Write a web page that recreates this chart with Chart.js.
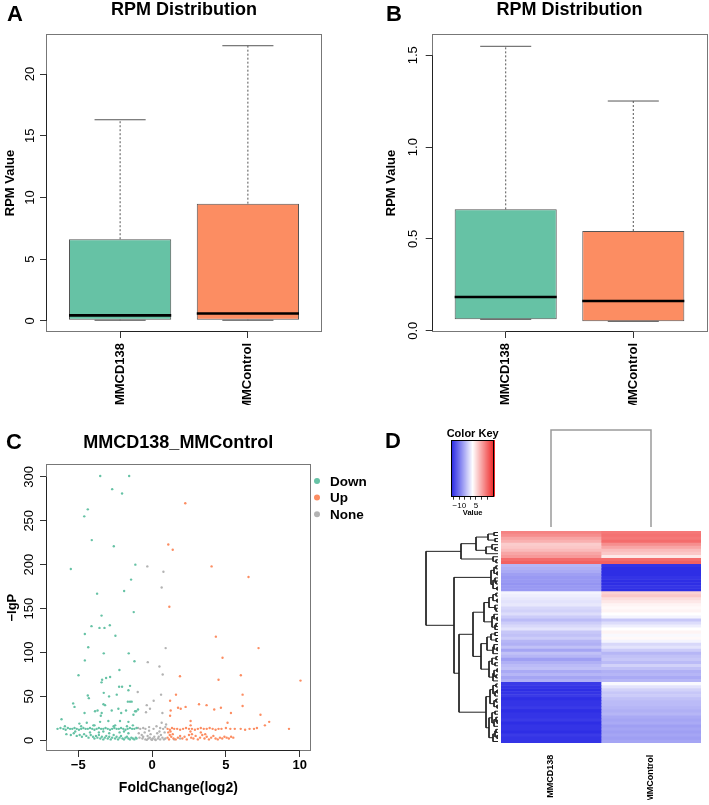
<!DOCTYPE html>
<html>
<head>
<meta charset="utf-8">
<script src="https://cdn.jsdelivr.net/npm/chart.js@4.4.0/dist/chart.umd.min.js"></script>
<style>
  body { margin: 0; background: #fff; }
  #fig { position: relative; width: 709px; height: 805px; overflow: hidden; background: #fff; }
  #fig canvas { position: absolute; }
  .tag { position: absolute; font: bold 22px 'Liberation Sans', Arial, sans-serif; line-height: 22px; color: #000; }
</style>
</head>
<body>
<div id="fig">
  <canvas id="boxA" width="350" height="405" style="left:0;top:0"></canvas>
  <canvas id="boxB" width="359" height="405" style="left:350px;top:0"></canvas>
  <canvas id="volcano" width="380" height="400" style="left:0;top:405px"></canvas>
  <canvas id="colorKey" width="62" height="100" style="left:440px;top:420px"></canvas>
  <canvas id="colTree" width="200" height="100" style="left:501px;top:428px"></canvas>
  <canvas id="rowTree" width="76" height="212" style="left:424px;top:531px"></canvas>
  <canvas id="heatmap" width="200" height="269" style="left:501px;top:531px"></canvas>
  <div class="tag" style="left:7px;top:3px">A</div>
  <div class="tag" style="left:386px;top:3px">B</div>
  <div class="tag" style="left:6px;top:431px">C</div>
  <div class="tag" style="left:385px;top:430px">D</div>
</div>
<script>
// --- dati boxplot (pannelli A e B)
const groups = ['MMCD138', 'MMControl'];
const boxColors = ['#66C2A5', '#FC8D62'];

const aWhiskLow = [0.05, 0.05];
const aQ1 = [0.1, 0.1];
const aMedian = [0.45, 0.6];
const aQ3 = [6.62, 9.5];
const aWhiskHigh = [16.3, 22.3];
const aYTicks = [0, 5, 10, 15, 20];

const bWhiskLow = [0.062, 0.051];
const bQ1 = [0.062, 0.051];
const bMedian = [0.184, 0.162];
const bQ3 = [0.661, 0.543];
const bWhiskHigh = [1.549, 1.251];
const bYTicks = [0, 0.5, 1, 1.5];

// --- dati volcano (pannello C): [log2 fold change, -lgP]
const volcanoDown = [
  [-3.51,301],[-1.55,301],[-2.70,286],[-2.03,281],[-4.35,263],[-4.59,255],[-4.08,228],[-2.59,221],
  [-5.50,195],[-1.13,200],[-1.42,183],[-1.89,170],[-3.72,167],[-1.24,146],[-3.42,142],[-4.10,130],
  [-3.56,128],[-3.22,128],[-2.86,131],[-4.55,121],[-2.48,119],[-4.32,106],[-3.27,99],[-1.58,99],
  [-4.55,91],[-1.19,90],[-2.21,80],[-4.98,74],[-2.84,72],[-3.11,71],[-3.38,69],[-3.42,66],
  [-2.23,61],[-2.03,61],[-1.49,62],[-1.60,57],[-4.35,51],[-4.28,48],[-3.27,54],[-2.91,50],
  [-2.39,52],[-1.64,44],[-1.49,44],[-5.34,42],[-5.25,38],[-3.29,41],[-3.69,34],[-2.73,34],
  [-4.57,31],[-1.15,33],[-0.95,35],[-6.13,24],[-3.47,28],[-1.26,29],[-2.09,31],
  [-3.86,33],[-3.41,31],[-3.18,40],[-2.28,36],[-1.76,34],[-1.38,44],[-1.08,33],[-4.42,20],
  [-3.52,21],[-2.96,22],[-2.17,22],[-1.60,21],[-4.92,19],[-2.50,17],[-3.97,17],
  [-6.40,13],[-6.20,14],[-6.00,13],[-5.85,12],[-5.70,14],[-5.55,13],[-5.40,13],[-5.25,14],
  [-5.10,13],[-4.95,12],[-4.80,13],[-4.65,14],[-4.50,13],[-4.35,13],[-4.20,14],[-4.05,13],
  [-3.90,12],[-3.75,13],[-3.60,14],[-3.45,13],[-3.30,13],[-3.15,14],[-3.00,13],[-2.85,12],
  [-2.70,13],[-2.55,14],[-2.40,13],[-2.25,13],[-2.10,14],[-1.95,13],[-1.80,12],[-1.65,13],
  [-1.50,14],[-1.35,13],[-1.20,13],[-1.05,14],[-5.90,16],[-4.80,16],[-3.90,17],[-2.60,16],
  [-1.70,16],[-1.30,17],
  [-5.80,7],[-5.50,6],[-5.30,8],[-5.10,5],[-4.90,6],[-4.75,4],[-4.60,7],[-4.45,5],[-4.30,3],
  [-4.15,6],[-4.00,4],[-3.90,2],[-3.80,5],[-3.70,3],[-3.60,6],[-3.50,2],[-3.40,4],[-3.30,1],
  [-3.20,3],[-3.10,5],[-3.00,2],[-2.90,4],[-2.80,1],[-2.70,3],[-2.60,6],[-2.50,2],[-2.40,4],
  [-2.30,1],[-2.20,3],[-2.10,5],[-2.00,2],[-1.90,1],[-1.80,3],[-1.70,4],[-1.60,2],[-1.50,1],
  [-1.40,3],[-1.30,2],[-1.20,1],[-1.10,3],[-1.05,2],[-4.20,9],[-3.60,9],[-2.90,8],[-2.20,9],
  [-1.60,8],[-5.20,10],[-3.30,10],[-1.90,10]
];
const volcanoUp = [
  [2.25,270],[1.10,223],[1.40,217],[4.03,198],[6.53,186],[1.17,152],[4.32,118],[7.21,105],
  [4.77,94],[1.89,73],[6.01,74],[4.50,69],[10.05,68],[6.13,52],[1.62,52],[1.22,45],[3.18,41],
  [3.69,40],[6.13,39],[1.76,37],[2.27,38],[1.94,36],[4.21,35],[4.66,37],[1.26,34],[5.34,31],
  [1.22,28],[7.34,29],[2.61,22],[7.93,21],[7.64,17],[5.11,20],[2.61,17],[9.27,13],
  [1.05,13],[1.20,12],[1.35,14],[1.50,13],[1.70,13],[1.90,12],[2.10,13],[2.30,14],[2.50,13],
  [2.70,13],[2.90,12],[3.10,13],[3.30,14],[3.50,13],[3.70,13],[3.90,14],[4.10,13],[4.30,12],
  [4.50,13],[4.70,13],[5.00,14],[5.30,13],[5.60,13],[6.00,13],[6.30,12],[6.60,13],[6.90,13],
  [7.10,14],[1.10,9],[1.25,10],[2.60,10],[3.30,9],
  [1.05,3],[1.15,1],[1.30,4],[1.45,2],[1.60,1],[1.75,3],[1.90,5],[2.05,2],[2.20,4],[2.35,1],
  [2.50,6],[2.65,3],[2.80,2],[2.95,5],[3.10,1],[3.25,3],[3.40,6],[3.55,2],[3.70,4],[3.85,1],
  [4.00,3],[4.15,5],[4.30,2],[4.45,1],[4.60,3],[4.75,2],[4.90,4],[5.05,3],[5.20,2],[5.35,4],
  [5.50,3],[1.20,6],[1.40,7],[2.70,7],[3.60,7]
];
const volcanoNone = [
  [-0.32,198],[0.77,192],[0.65,174],[0.92,105],[-0.29,89],[0.50,84],[0.72,75],[-0.97,55],
  [0.61,52],[0.11,45],[-0.36,40],[-0.14,36],[0.70,31],[-0.41,32],
  [-0.95,14],[-0.80,13],[-0.60,14],[-0.45,13],[-0.20,15],[0.10,13],[0.30,16],[0.55,14],
  [0.75,13],[0.90,15],[-0.90,8],[-0.70,6],[-0.50,9],[-0.30,5],[-0.10,7],[0.15,4],[0.35,8],
  [0.60,6],[0.85,9],[-0.85,3],[-0.65,2],[-0.45,1],[-0.25,2],[-0.05,1],[0.00,0.5],[0.20,1],
  [0.40,2],[0.55,1],[0.70,3],[0.90,2],[-0.35,0.5],[0.25,0.3],[-0.15,3],[0.45,4],[0.80,1],
  [-0.60,4],[0.05,2],[0.65,20],[0.95,18],[0.50,10],[-0.20,11],[1.50,1],[1.90,2]
];
const volcanoXTicks = [-5, 0, 5, 10];
const volcanoYTicks = [0, 50, 100, 150, 200, 250, 300];

// --- dati heatmap (pannello D), righe dall'alto verso il basso
const heatMMCD138 = [
  13, 12, 10, 9, 6.5, 7, 8, 10, 11, 15, 16,
  -4.5, -5, -5.5, -6.5, -7, -7, -7.5, -7, -7,
  1, 0.5, 0, -0.5, 0, -1.5, -2, -1, -2.5, -4, -2.5, -1.5, -0.5, -3, -3.5,
  -2.5, -4.5, -5, -3.5, -6, -3.5, -4.5, -6.5, -5, -4, -3.5, -5.5, -4.5, -6, -5,
  -15.5, -16, -16.5, -16, -15.5, -16.5, -16, -16, -15.5, -16.5,
  -16, -16, -15.5, -16.5, -16, -16, -16.5, -15.5, -16, -16
];
const heatMMControl = [
  14, 14.5, 14, 15, 12, 10, 8, 7, 4, 15, 16,
  -16, -16.5, -16.5, -16.5, -16, -16.5, -16.5, -16, -16.5,
  6, 7, 5, 4, 3, 2.5, 3, 2, 1, -3, -1, 0.5, 2, 3, 1.5,
  2.5, 1, -1.5, -0.5, -2.5, -4.5, -3.5, -3, -4, -2, -3.5, -5, -4.5, -5.5, -4.5,
  1.5, -0.5, -2, -3, -2.5, -3.5, -4, -4, -4.5, -5,
  -4.5, -5.5, -6, -5.5, -6.5, -6, -6.5, -6, -6.5, -6
];
// altezza di fusione tra riga i e riga i+1 (ordine delle foglie del dendrogramma)
const rowMergeHeights = [
  4, 10, 3, 22, 6, 3, 12, 37, 5, 2,
  72,
  2, 4, 1, 7, 3, 2, 5, 1,
  44,
  2, 5, 1, 9, 3, 2, 14, 4, 1, 6, 2, 3,
  25,
  3, 7, 2, 11, 4, 1, 5, 17, 2, 6, 3, 9, 1, 4, 2, 5,
  39,
  2, 5, 1, 3, 8, 2, 4, 1, 12, 3, 6, 2, 1, 4, 9, 2, 3, 1, 5
];
const colMergeHeights = [100];
const keyRange = [-17.5, 21.5];
const keyTicks = [-15, -10, -5, 0, 5, 10, 15];
const keyTickLabels = [-10, 5];

const FONT = "'Liberation Sans', Arial, Helvetica, sans-serif";
Chart.defaults.font.family = FONT;
Chart.defaults.color = '#000';

const minus = v => (v < 0 ? '\u2212' + Math.abs(v) : String(v));
const setTicks = list => sc => { sc.ticks = list.map(v => ({ value: v })); };

// riquadro stile R + titolo del pannello
const rFrame = {
  id: 'rFrame',
  afterDraw(chart, args, opts) {
    const { ctx, chartArea: a, scales } = chart;
    ctx.save();
    ctx.strokeStyle = '#777';
    ctx.lineWidth = 1;
    ctx.strokeRect(Math.round(a.left) + 0.5, Math.round(a.top) + 0.5, Math.round(a.width) - 1, Math.round(a.height) - 1);
    // linee degli assi tra primo e ultimo tick
    ctx.strokeStyle = '#222';
    const xt = scales.x.ticks, yt = scales.y.ticks;
    const x0 = scales.x.getPixelForValue(xt[0].value), x1 = scales.x.getPixelForValue(xt[xt.length - 1].value);
    const y0 = scales.y.getPixelForValue(yt[0].value), y1 = scales.y.getPixelForValue(yt[yt.length - 1].value);
    ctx.beginPath();
    ctx.moveTo(x0, Math.round(a.bottom) - 0.5); ctx.lineTo(x1, Math.round(a.bottom) - 0.5);
    ctx.moveTo(Math.round(a.left) + 0.5, y0); ctx.lineTo(Math.round(a.left) + 0.5, y1);
    ctx.stroke();
    ctx.fillStyle = '#000';
    ctx.font = 'bold 18px ' + FONT;
    ctx.textAlign = 'center';
    ctx.textBaseline = 'alphabetic';
    ctx.fillText(opts.title, (a.left + a.right) / 2, opts.titleBase);
    ctx.restore();
  }
};

function boxChart(id, st, yRange, yTicks, yFmt, yWidth, yTickPad, yTitlePad, padRight) {
  const xs = groups.map((g, i) => i + 1);
  const whiskers = [], caps = [], medians = [];
  xs.forEach((x, i) => {
    whiskers.push({ x, y: st.q3[i] }, { x, y: st.hi[i] }, { x: null, y: null },
                  { x, y: st.lo[i] }, { x, y: st.q1[i] }, { x: null, y: null });
    caps.push({ x: x - 0.2, y: st.hi[i] }, { x: x + 0.2, y: st.hi[i] }, { x: null, y: null },
              { x: x - 0.2, y: st.lo[i] }, { x: x + 0.2, y: st.lo[i] }, { x: null, y: null });
    medians.push({ x: x - 0.4, y: st.med[i] }, { x: x + 0.4, y: st.med[i] }, { x: null, y: null });
  });
  return new Chart(document.getElementById(id), {
    type: 'bar',
    data: {
      datasets: [
        { type: 'line', data: medians, borderColor: '#000', borderWidth: 2.6, pointRadius: 0, order: 0 },
        { type: 'line', data: caps, borderColor: '#555', borderWidth: 1, pointRadius: 0, order: 1 },
        { type: 'line', data: whiskers, borderColor: '#555', borderWidth: 1, borderDash: [2, 2], pointRadius: 0, order: 2 },
        {
          type: 'bar',
          data: xs.map((x, i) => ({ x, y: [st.q1[i], st.q3[i]] })),
          backgroundColor: boxColors,
          borderColor: '#555',
          borderWidth: 1,
          borderSkipped: false,
          categoryPercentage: 0.8,
          barPercentage: 1,
          order: 3
        }
      ]
    },
    plugins: [rFrame],
    options: {
      responsive: false,
      animation: false,
      layout: { padding: { top: 34, right: padRight, left: 0, bottom: 0 } },
      plugins: {
        legend: { display: false },
        tooltip: { enabled: false },
        rFrame: { title: 'RPM Distribution', titleBase: 15 }
      },
      scales: {
        x: {
          type: 'linear', min: 0.42, max: 2.58, offset: false,
          afterBuildTicks: setTicks(xs),
          afterFit: sc => { sc.height = 73; },
          grid: { drawOnChartArea: false, tickLength: 6, color: '#333', offset: false },
          border: { display: false },
          ticks: { callback: v => groups[v - 1], minRotation: 90, maxRotation: 90, padding: 5, autoSkip: false,
                   font: { size: 13, weight: 'bold' } }
        },
        y: {
          type: 'linear', min: yRange[0], max: yRange[1],
          afterBuildTicks: setTicks(yTicks),
          afterFit: sc => { sc.width = yWidth; },
          grid: { drawOnChartArea: false, tickLength: 6, color: '#333' },
          border: { display: false },
          ticks: { callback: yFmt, minRotation: 90, maxRotation: 90, crossAlign: 'center', padding: yTickPad,
                   autoSkip: false, font: { size: 13 } },
          title: { display: true, text: 'RPM Value', font: { size: 13, weight: 'bold' }, padding: { top: yTitlePad } }
        }
      }
    }
  });
}

boxChart('boxA', { lo: aWhiskLow, q1: aQ1, med: aMedian, q3: aQ3, hi: aWhiskHigh },
         [-0.9, 23.25], aYTicks, v => String(v), 46, 2.8, 2.2, 28);
boxChart('boxB', { lo: bWhiskLow, q1: bQ1, med: bMedian, q3: bQ3, hi: bWhiskHigh },
         [-0.007, 1.616], bYTicks, v => v.toFixed(1), 81.7, 3.7, 33.9, 1.7);

// --- pannello C: volcano plot
const volcanoColors = ['#66C2A5', '#FC8D62', '#B3B3B3'];
const volcanoLegend = {
  id: 'volcanoLegend',
  afterDraw(chart) {
    const { ctx } = chart;
    ctx.save();
    ctx.font = 'bold 13.5px ' + FONT;
    ctx.textBaseline = 'middle';
    chart.data.datasets.forEach((ds, i) => {
      const y = 76 + i * 16.6;
      ctx.fillStyle = ds.backgroundColor;
      ctx.beginPath();
      ctx.arc(317, y, 3, 0, Math.PI * 2);
      ctx.fill();
      ctx.fillStyle = '#000';
      ctx.fillText(ds.label, 330, y + 1);
    });
    ctx.restore();
  }
};
new Chart(document.getElementById('volcano'), {
  type: 'scatter',
  data: {
    datasets: [
      { label: 'Down', data: volcanoDown.map(p => ({ x: p[0], y: p[1] })) },
      { label: 'Up', data: volcanoUp.map(p => ({ x: p[0], y: p[1] })) },
      { label: 'None', data: volcanoNone.map(p => ({ x: p[0], y: p[1] })) }
    ].map((ds, i) => Object.assign(ds, {
      backgroundColor: volcanoColors[i], borderWidth: 0, pointRadius: 1.2
    }))
  },
  plugins: [rFrame, volcanoLegend],
  options: {
    responsive: false,
    animation: false,
    layout: { padding: { top: 59.3, right: 69.3, left: 0, bottom: 0 } },
    plugins: {
      legend: { display: false },
      tooltip: { enabled: false },
      rFrame: { title: 'MMCD138_MMControl', titleBase: 43.3 }
    },
    scales: {
      x: {
        type: 'linear', min: -7.18, max: 10.74,
        afterBuildTicks: setTicks(volcanoXTicks),
        afterFit: sc => { sc.height = 54; },
        grid: { drawOnChartArea: false, tickLength: 6, color: '#333' },
        border: { display: false },
        ticks: { callback: minus, padding: 1, maxRotation: 0, autoSkip: false, font: { size: 13, weight: 'bold' } },
        title: { display: true, text: 'FoldChange(log2)', font: { size: 14, weight: 'bold' }, padding: { bottom: 8.6 } }
      },
      y: {
        type: 'linear', min: -12.2, max: 314.3,
        afterBuildTicks: setTicks(volcanoYTicks),
        afterFit: sc => { sc.width = 46; },
        grid: { drawOnChartArea: false, tickLength: 6, color: '#333' },
        border: { display: false },
        ticks: { callback: minus, minRotation: 90, maxRotation: 90, crossAlign: 'center', padding: 0.2,
                 autoSkip: false, font: { size: 13 } },
        title: { display: true, text: '\u2212lgP', font: { size: 13, weight: 'bold' }, padding: { top: 4.2 } }
      }
    }
  }
});

// --- pannello D: heatmap con dendrogrammi
function heatColor(v) {
  const mid = (keyRange[0] + keyRange[1]) / 2, half = (keyRange[1] - keyRange[0]) / 2;
  const f = Math.max(-1, Math.min(1, (v - mid) / half));
  const end = f < 0 ? [35, 35, 228] : [238, 35, 35];
  const t = Math.abs(f);
  const c = end.map(e => Math.round(255 + (e - 255) * t));
  return `rgb(${c[0]},${c[1]},${c[2]})`;
}

// costruisce l'albero dalle altezze di fusione tra foglie adiacenti
function buildTree(lo, hi, gaps) {
  if (lo === hi) return { pos: lo, h: 0 };
  let k = lo;
  for (let i = lo; i < hi; i++) if (gaps[i] > gaps[k]) k = i;
  const l = buildTree(lo, k, gaps), r = buildTree(k + 1, hi, gaps);
  return { pos: (l.pos + r.pos) / 2, h: gaps[k], l, r };
}
function treeSegments(node, toPt, out) {
  if (!node.l) return out;
  out.push(toPt(node.l.pos, node.l.h), toPt(node.l.pos, node.h), toPt(node.r.pos, node.h),
           toPt(node.r.pos, node.r.h), { x: null, y: null });
  treeSegments(node.l, toPt, out);
  treeSegments(node.r, toPt, out);
  return out;
}

const rowIds = heatMMCD138.map((v, i) => 'r' + (i + 1));
const rowRoot = buildTree(0, rowIds.length - 1, rowMergeHeights);
new Chart(document.getElementById('rowTree'), {
  type: 'scatter',
  data: { datasets: [{
    data: treeSegments(rowRoot, (pos, h) => ({ x: h, y: pos }), []),
    showLine: true, pointRadius: 0, borderColor: '#222', borderWidth: 1, clip: false
  }] },
  options: {
    responsive: false, animation: false,
    layout: { padding: { left: 2, right: 2, top: 0, bottom: 0 } },
    plugins: { legend: { display: false }, tooltip: { enabled: false } },
    scales: {
      x: { type: 'linear', min: 0, max: rowRoot.h, reverse: true, display: false },
      y: { type: 'linear', min: -0.5, max: rowIds.length - 0.5, reverse: true, display: false }
    }
  }
});

const colRoot = buildTree(0, groups.length - 1, colMergeHeights);
new Chart(document.getElementById('colTree'), {
  type: 'scatter',
  data: { datasets: [{
    data: treeSegments(colRoot, (pos, h) => ({ x: pos + 0.5, y: h }), []),
    showLine: true, pointRadius: 0, borderColor: '#9a9a9a', borderWidth: 1.5, clip: false
  }] },
  options: {
    responsive: false, animation: false,
    layout: { padding: { left: 0, right: 0, top: 2, bottom: 1 } },
    plugins: { legend: { display: false }, tooltip: { enabled: false } },
    scales: {
      x: { type: 'linear', min: 0, max: groups.length, display: false },
      y: { type: 'linear', min: 0, max: colRoot.h, display: false }
    }
  }
});

new Chart(document.getElementById('heatmap'), {
  type: 'bar',
  data: {
    labels: rowIds,
    datasets: [heatMMCD138, heatMMControl].map((vals, c) => ({
      data: vals.map(() => [c, c + 1]),
      backgroundColor: vals.map(heatColor),
      borderWidth: 0,
      grouped: false,
      barPercentage: 1,
      categoryPercentage: 1
    }))
  },
  options: {
    indexAxis: 'y',
    responsive: false, animation: false,
    layout: { padding: 0 },
    plugins: { legend: { display: false }, tooltip: { enabled: false } },
    scales: {
      x: {
        type: 'linear', min: 0, max: groups.length,
        afterBuildTicks: setTicks(groups.map((g, i) => i + 0.5)),
        afterFit: sc => { sc.height = 57; },
        grid: { display: false, drawTicks: false },
        border: { display: false },
        ticks: { callback: (v, i) => groups[i], minRotation: 90, maxRotation: 90, padding: 11.7,
                 autoSkip: false, font: { size: 9, weight: 'bold' } }
      },
      y: { display: false }
    }
  }
});

const keyFill = {
  id: 'keyFill',
  beforeDatasetsDraw(chart) {
    const { ctx, chartArea: a, scales } = chart;
    ctx.save();
    for (let px = Math.floor(a.left); px < a.right; px++) {
      ctx.fillStyle = heatColor(scales.x.getValueForPixel(px + 0.5));
      ctx.fillRect(px, a.top, 1, a.height);
    }
    ctx.strokeStyle = '#000';
    ctx.lineWidth = 1;
    ctx.strokeRect(Math.round(a.left) + 0.5, Math.round(a.top) + 0.5, Math.round(a.width) - 1, Math.round(a.height) - 1);
    ctx.fillStyle = '#000';
    ctx.font = 'bold 11px ' + FONT;
    ctx.textAlign = 'center';
    ctx.fillText('Color Key', (a.left + a.right) / 2, 17.3);
    ctx.restore();
  }
};
new Chart(document.getElementById('colorKey'), {
  type: 'scatter',
  data: { datasets: [] },
  plugins: [keyFill],
  options: {
    responsive: false, animation: false,
    layout: { padding: { left: 11, right: 7.7, top: 20, bottom: 0 } },
    plugins: { legend: { display: false }, tooltip: { enabled: false } },
    scales: {
      x: {
        type: 'linear', min: keyRange[0], max: keyRange[1],
        afterBuildTicks: setTicks(keyTicks),
        afterFit: sc => { sc.height = 23.3; },
        grid: { drawOnChartArea: false, tickLength: 3, color: '#333' },
        border: { display: false },
        ticks: { callback: v => (keyTickLabels.includes(v) ? minus(v) : ''), padding: 1.5, maxRotation: 0,
                 autoSkip: false, font: { size: 8 } },
        title: { display: true, text: 'Value', font: { size: 7.5, weight: 'bold' }, padding: { bottom: 2.5 } }
      },
      y: { type: 'linear', min: 0, max: 1, display: false }
    }
  }
});
</script>
</body>
</html>
